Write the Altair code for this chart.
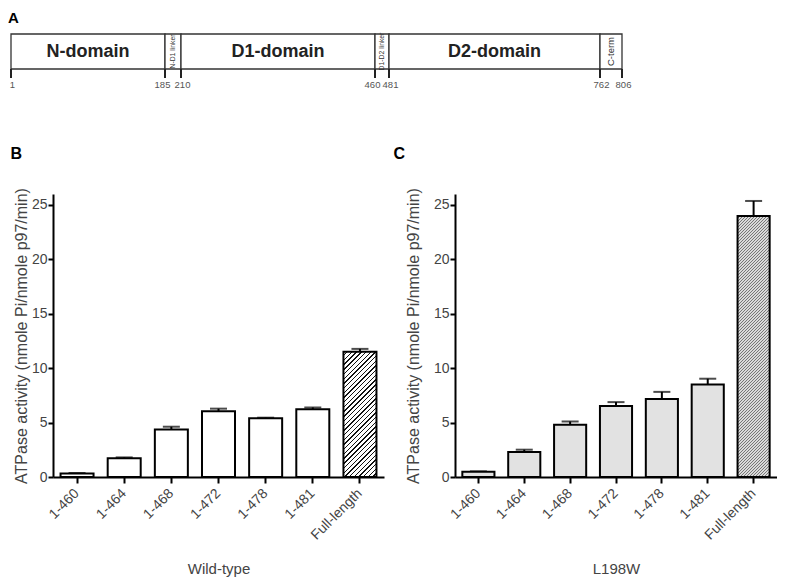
import altair as alt
import pandas as pd

# ---------------- data ----------------
# Panel A: p97 domain architecture (residue numbers)
seg_start = [1, 185, 210, 460, 481, 762]
seg_end = [185, 210, 460, 481, 762, 806]
seg_name = ["N-domain", "N-D1 linker", "D1-domain", "D1-D2 linker", "D2-domain", "C-term"]
seg_kind = ["domain", "linker", "domain", "linker", "domain", "cterm"]
boundaries = [1, 185, 210, 460, 481, 762, 806]
left_nudged = [185, 460]      # boundary labels nudged left so neighbours do not collide

# Panels B / C: ATPase activity (nmole Pi/nmole p97/min)
constructs = ["1-460", "1-464", "1-468", "1-472", "1-478", "1-481", "Full-length"]
wt_mean = [0.32, 1.72, 4.37, 6.04, 5.40, 6.22, 11.50]
wt_err = [0.05, 0.08, 0.25, 0.24, 0.05, 0.17, 0.27]
mut_mean = [0.48, 2.29, 4.80, 6.52, 7.16, 8.49, 23.97]
mut_err = [0.04, 0.22, 0.30, 0.36, 0.66, 0.54, 1.39]

y_ticks = [0, 5, 10, 15, 20, 25]
y_title = "ATPase activity (nmole Pi/nmole p97/min)"

# ---------------- style ----------------
FONT = "Liberation Sans"
GRAY = "#444444"
A_SHIFT = -42                                     # diagram starts left of its panel origin
diagram_px = [A_SHIFT + v for v in [0, 154, 170, 364, 378, 589, 611]]  # schematic layout
A_W, A_H = 611 + A_SHIFT, 57
H = 283
WB, WC = 331, 322
PI, PO = 0.30, 0.16
YMAX = 26


def hatch(w, h, period, frac, bg, fg):
    """45-degree stripe fill as a bounding-box linear gradient."""
    d = w * w + h * h
    x2 = (w + h) * w / d
    y2 = (w + h) * h / d
    n = (w + h) / period
    stops = []
    i = 0
    while i / n < 1:
        a = i / n
        b = min((i + 1 - frac) / n, 1)
        c = min((i + 1) / n, 1)
        stops += [{"offset": a, "color": bg}, {"offset": b, "color": bg},
                  {"offset": b, "color": fg}, {"offset": c, "color": fg}]
        i += 1
    return {"gradient": "linear", "x1": 0, "y1": 0, "x2": x2, "y2": y2, "stops": stops}


# ---------------- panel A ----------------
seg_df = pd.DataFrame({"start": seg_start, "end": seg_end, "name": seg_name, "kind": seg_kind})
pos_df = pd.DataFrame({"pos": boundaries})
pos_df["nudge"] = pos_df["pos"].isin(left_nudged)

xA = alt.Scale(domain=boundaries, range=diagram_px, zero=False, nice=False)

boxes = alt.Chart(seg_df).mark_rect(fill="white", stroke="#333333", strokeWidth=1.3).encode(
    x=alt.X("start:Q", scale=xA, axis=None), x2="end:Q",
    y=alt.value(0), y2=alt.value(35))

seg_base = alt.Chart(seg_df).transform_calculate(mid="(datum.start + datum.end) / 2")
dom_lbl = seg_base.transform_filter("datum.kind == 'domain'").mark_text(
    fontSize=18, fontWeight="bold", color="#222222", baseline="middle").encode(
    x=alt.X("mid:Q", scale=xA, axis=None), y=alt.value(18), text="name:N")
link_lbl = seg_base.transform_filter("datum.kind == 'linker'").mark_text(
    fontSize=6.8, angle=270, color="#333333", baseline="middle").encode(
    x=alt.X("mid:Q", scale=xA, axis=None), y=alt.value(17.5), text="name:N")
cterm_lbl = seg_base.transform_filter("datum.kind == 'cterm'").mark_text(
    fontSize=9.5, angle=270, color="#333333", baseline="middle").encode(
    x=alt.X("mid:Q", scale=xA, axis=None), y=alt.value(17.5), text="name:N")

pos_ticks = alt.Chart(pos_df).mark_rule(strokeWidth=2, color="#222222").encode(
    x=alt.X("pos:Q", scale=xA, axis=None), y=alt.value(35), y2=alt.value(44))
pos_lbl_l = alt.Chart(pos_df).transform_filter("datum.nudge").mark_text(
    fontSize=9.5, color="#555555", baseline="middle", dx=-2.5).encode(
    x=alt.X("pos:Q", scale=xA, axis=None), y=alt.value(51), text=alt.Text("pos:Q", format="d"))
pos_lbl_r = alt.Chart(pos_df).transform_filter("!datum.nudge").mark_text(
    fontSize=9.5, color="#555555", baseline="middle", dx=1.5).encode(
    x=alt.X("pos:Q", scale=xA, axis=None), y=alt.value(51), text=alt.Text("pos:Q", format="d"))

panelA = alt.layer(boxes, dom_lbl, link_lbl, cterm_lbl, pos_ticks, pos_lbl_l, pos_lbl_r).properties(
    width=A_W, height=A_H,
    title=alt.TitleParams("A", anchor="start", frame="group", dx=A_SHIFT - 3, offset=7,
                          fontSize=15, fontWeight="bold", color="black"))


# ---------------- panels B / C ----------------
def bar_panel(means, errs, letter, letter_dx, xtitle, width, fill, grad, ytitle_pad):
    df = pd.DataFrame({"construct": constructs, "mean": means, "err": errs})
    base = alt.Chart(df).transform_calculate(upper="datum.mean + datum.err")
    x = alt.X("construct:N", sort=constructs,
              scale=alt.Scale(domain=constructs, paddingInner=PI, paddingOuter=PO),
              axis=alt.Axis(title=xtitle))
    yscale = alt.Scale(domain=[0, YMAX], nice=False, zero=True)
    yaxis = alt.Axis(title=y_title, values=y_ticks, titlePadding=ytitle_pad)
    bars = base.transform_filter("datum.construct != 'Full-length'").mark_bar(
        fill=fill, stroke="black", strokeWidth=2).encode(
        x=x, y=alt.Y("mean:Q", scale=yscale, axis=yaxis))
    full = base.transform_filter("datum.construct == 'Full-length'").mark_bar(
        fill=grad, stroke="black", strokeWidth=2).encode(
        x=x, y=alt.Y("mean:Q", scale=yscale, axis=yaxis))
    rule = base.mark_rule(color="black", strokeWidth=2).encode(
        x=x, y=alt.Y("mean:Q", scale=yscale, axis=yaxis), y2="upper:Q")
    cap = base.mark_tick(color="black", size=17, thickness=2).encode(
        x=x, y=alt.Y("upper:Q", scale=yscale, axis=yaxis))
    return alt.layer(rule, cap, bars, full).properties(
        width=width, height=H,
        title=alt.TitleParams(letter, anchor="start", frame="bounds", dx=letter_dx, offset=26,
                              fontSize=16, fontWeight="bold", color="black"))


def full_dims(width, mean):
    step = width / (len(constructs) - PI + 2 * PO)
    return (1 - PI) * step, mean / YMAX * H


wB, hB = full_dims(WB, wt_mean[-1])
wC, hC = full_dims(WC, mut_mean[-1])
gradB = hatch(wB, hB, 4.7, 0.3, "#ffffff", "#111111")
gradC = hatch(wC, hC, 3.0, 0.5, "#dadada", "#777777")

panelB = bar_panel(wt_mean, wt_err, "B", -3, "Wild-type", WB, "white", gradB, 2)
panelC = bar_panel(mut_mean, mut_err, "C", -12, "L198W", WC, "#e2e2e2", gradC, 12)

chart = alt.vconcat(
    panelA,
    alt.hconcat(panelB, panelC, spacing=9),
    spacing=54,
).properties(padding={"left": 0, "top": 2, "right": 0, "bottom": 0}).configure(
    font=FONT).configure_view(stroke=None).configure_axisX(
    domainColor="black", domainWidth=2, tickColor="black", tickWidth=2, tickSize=6,
    labelAngle=-45, labelAlign="right", labelBaseline="middle", labelPadding=8,
    labelFontSize=14, labelColor=GRAY, titleFontSize=15, titleColor=GRAY,
    titleFontWeight="normal", titlePadding=19, grid=False,
).configure_axisY(
    domainColor="black", domainWidth=2, tickColor="black", tickWidth=2, tickSize=5,
    labelFontSize=14, labelColor=GRAY, labelPadding=1, titleFontSize=16, titleColor=GRAY,
    titleFontWeight="normal", grid=False,
)

chart.save("out.html", embed_options={"renderer": "svg", "actions": False})
